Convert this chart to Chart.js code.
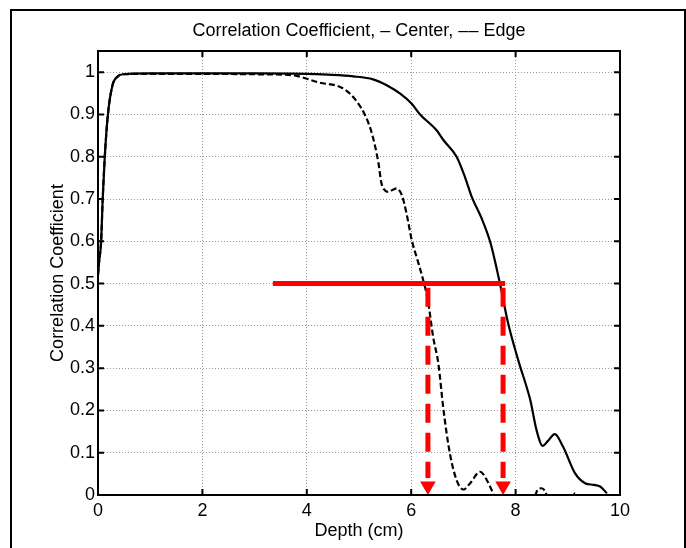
<!DOCTYPE html>
<html>
<head>
<meta charset="utf-8">
<script src="https://cdn.jsdelivr.net/npm/chart.js@4.4.1/dist/chart.umd.min.js"></script>
<style>
  html, body { margin: 0; padding: 0; background: #fff; overflow: hidden; }
  #wrap { position: relative; width: 686px; height: 548px; }
  #frame { position: absolute; left: 10px; top: 9px; width: 672px; height: 600px; border: 2px solid #000; pointer-events: none; }
</style>
</head>
<body>
<div id="wrap">
  <canvas id="corrChart" width="686" height="548"></canvas>
  <div id="frame"></div>
</div>
<script>
// Center curve (solid)
const centerDepth = [0, 0.02, 0.06, 0.09, 0.13, 0.19, 0.28, 0.38, 0.48, 1.0, 2.0, 3.0, 4.0,
  4.4, 4.89, 5.27, 5.53, 5.79, 6.01, 6.17, 6.49, 6.62, 6.87, 7.03, 7.16, 7.35, 7.51, 7.6,
  7.7, 7.85, 8.05, 8.28, 8.4, 8.52, 8.62, 8.75, 8.91, 9.14, 9.33, 9.5, 9.62, 9.75];
const centerCorr = [0.52, 0.55, 0.6, 0.7, 0.8, 0.9, 0.97, 0.99, 0.995, 0.997, 0.997, 0.997, 0.996,
  0.994, 0.99, 0.983, 0.969, 0.949, 0.925, 0.9, 0.862, 0.839, 0.8, 0.752, 0.705, 0.654, 0.6, 0.556,
  0.5, 0.41, 0.319, 0.225, 0.154, 0.116, 0.128, 0.144, 0.114, 0.051, 0.028, 0.024, 0.02, 0.004];

// Edge curve (dashed); values below 0 are cut off by the axes
const edgeDepth = [0, 0.02, 0.06, 0.09, 0.13, 0.19, 0.28, 0.38, 0.48, 1.0, 2.0, 3.0, 3.7,
  4.25, 4.64, 4.83, 4.99, 5.11, 5.24, 5.37, 5.43, 5.5, 5.56, 5.65, 5.72, 5.82, 5.91, 6.01,
  6.12, 6.23, 6.32, 6.42, 6.52, 6.62, 6.74, 6.87, 7.0, 7.13, 7.32, 7.45, 7.57, 7.7, 8.0,
  8.35, 8.42, 8.5, 8.57, 8.65, 9.0, 9.1, 9.14, 9.18, 9.3];
const edgeCorr = [0.52, 0.55, 0.6, 0.7, 0.8, 0.9, 0.97, 0.99, 0.995, 0.996, 0.996, 0.995, 0.993,
  0.975, 0.965, 0.949, 0.925, 0.9, 0.858, 0.787, 0.737, 0.72, 0.717, 0.722, 0.725, 0.709, 0.666, 0.603,
  0.556, 0.508, 0.46, 0.374, 0.311, 0.2, 0.099, 0.035, 0.013, 0.028, 0.055, 0.035, 0.004, -0.03, -0.05,
  -0.01, 0.012, 0.016, 0.008, -0.02, -0.02, -0.003, 0.004, -0.003, -0.03];

// red 0.5 threshold and the two depths where it is crossed
const thresholdDepth = [3.35, 7.8];
const thresholdCorr = [0.5, 0.5];
const crossDepth = [6.32, 7.76];
const dropFrom = 0.49;
const dropTo = 0.04;
const arrowCorr = 0.021;

// axes
const xTickValues = [0, 2, 4, 6, 8, 10];
const xTickLabels = ['0', '2', '4', '6', '8', '10'];
const yTickValues = [0, 0.1, 0.2, 0.3, 0.4, 0.5, 0.6, 0.7, 0.8, 0.9, 1];
const yTickLabels = ['0', '0.1', '0.2', '0.3', '0.4', '0.5', '0.6', '0.7', '0.8', '0.9', '1'];

const toPoints = (xs, ys) => xs.map((x, i) => ({ x: x, y: ys[i] }));

Chart.defaults.font.family = "'Liberation Sans', Arial, sans-serif";
Chart.defaults.color = '#000';

// MATLAB-like box with inward tick marks on all four sides
const matlabBox = {
  id: 'matlabBox',
  afterDatasetsDraw(chart) {
    const { ctx, chartArea: a, scales: { x, y } } = chart;
    ctx.save();
    ctx.strokeStyle = '#000';
    ctx.lineWidth = 2;
    ctx.strokeRect(a.left, a.top, a.right - a.left, a.bottom - a.top);
    ctx.beginPath();
    x.ticks.forEach(t => {
      const px = x.getPixelForValue(t.value);
      ctx.moveTo(px, a.bottom); ctx.lineTo(px, a.bottom - 6);
      ctx.moveTo(px, a.top); ctx.lineTo(px, a.top + 6);
    });
    y.ticks.forEach(t => {
      const py = y.getPixelForValue(t.value);
      ctx.moveTo(a.left, py); ctx.lineTo(a.left + 6, py);
      ctx.moveTo(a.right, py); ctx.lineTo(a.right - 6, py);
    });
    ctx.stroke();
    ctx.restore();
  }
};

const red = '#ff0000';
const drops = crossDepth.map(d => ({
  data: [{ x: d, y: dropFrom }, { x: d, y: dropTo }],
  borderColor: red, borderWidth: 5, borderDash: [19, 10], pointRadius: 0
}));

new Chart(document.getElementById('corrChart'), {
  type: 'line',
  data: {
    datasets: [
      {
        data: toPoints(thresholdDepth, thresholdCorr),
        borderColor: red, borderWidth: 5, pointRadius: 0
      },
      ...drops,
      {
        data: crossDepth.map(d => ({ x: d, y: arrowCorr })),
        showLine: false, pointStyle: 'triangle', rotation: 180, pointRadius: 9,
        pointBackgroundColor: red, pointBorderColor: red, pointBorderWidth: 0, clip: false
      },
      {
        label: 'Center',
        data: toPoints(centerDepth, centerCorr),
        borderColor: '#000', borderWidth: 2.2, pointRadius: 0,
        cubicInterpolationMode: 'monotone'
      },
      {
        label: 'Edge',
        data: toPoints(edgeDepth, edgeCorr),
        borderColor: '#000', borderWidth: 2.2, borderDash: [6, 3], pointRadius: 0,
        cubicInterpolationMode: 'monotone'
      }
    ]
  },
  options: {
    responsive: false,
    animation: false,
    events: [],
    layout: { padding: { left: 0, right: 66, top: 0, bottom: 0 } },
    plugins: {
      legend: { display: false },
      tooltip: { enabled: false },
      title: {
        display: true,
        fullSize: false,
        text: 'Correlation Coefficient, \u2013 Center, \u2013\u2013 Edge',
        color: '#000',
        font: { size: 18, weight: 'normal' },
        padding: { top: 20, bottom: 9.4 }
      }
    },
    scales: {
      x: {
        type: 'linear',
        min: 0, max: 10,
        afterBuildTicks: s => { s.ticks = xTickValues.map(v => ({ value: v })); },
        afterFit: s => { s.height = 53; },
        ticks: {
          callback: (v, i) => xTickLabels[i],
          font: { size: 18 }, color: '#000', padding: 5, maxRotation: 0
        },
        grid: { color: '#9a9a9a', lineWidth: 1, drawTicks: false },
        border: { display: false, dash: [1, 2] },
        title: {
          display: true, text: 'Depth (cm)', color: '#000',
          font: { size: 18 }, padding: { top: 0, bottom: 6 }
        }
      },
      y: {
        min: 0, max: 1.05,
        afterBuildTicks: s => { s.ticks = yTickValues.map(v => ({ value: v })); },
        afterFit: s => { s.width = 98; },
        ticks: {
          callback: (v, i) => yTickLabels[i],
          font: { size: 18 }, color: '#000', padding: 3
        },
        grid: { color: '#9a9a9a', lineWidth: 1, drawTicks: false },
        border: { display: false, dash: [1, 2] },
        title: {
          display: true, text: 'Correlation Coefficient', color: '#000',
          font: { size: 18 }, padding: { top: 47, bottom: 0 }
        }
      }
    }
  },
  plugins: [matlabBox]
});
</script>
</body>
</html>
